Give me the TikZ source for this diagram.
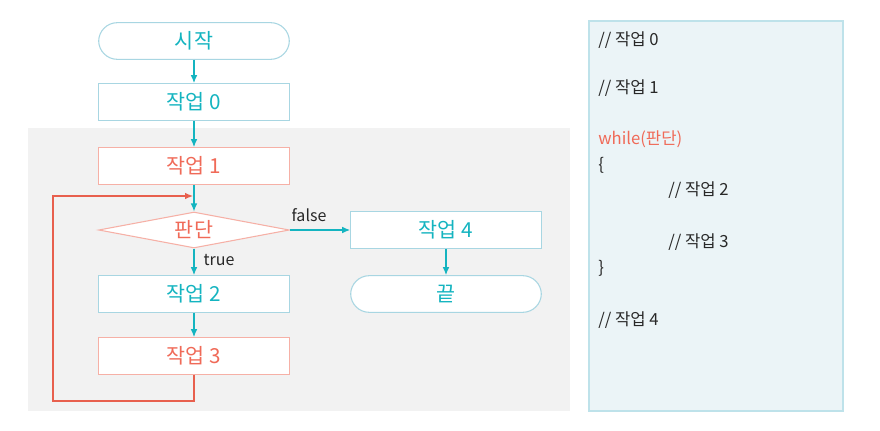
\documentclass[tikz,border=0pt]{standalone}
\usepackage{fontspec}
\setmainfont{Noto Sans CJK KR}
\usetikzlibrary{arrows.meta,shapes.geometric}
\definecolor{flowteal}{RGB}{20,180,192}
\definecolor{flowedge}{RGB}{168,214,226}
\definecolor{flowred}{RGB}{240,106,88}
\definecolor{flowredge}{RGB}{246,176,166}
\definecolor{loopred}{RGB}{232,96,78}
\definecolor{bgpanel}{RGB}{242,242,242}
\definecolor{codepanel}{RGB}{235,244,247}
\definecolor{codeedge}{RGB}{190,226,234}
\definecolor{codetext}{RGB}{40,40,40}
\tikzset{
  box/.style  ={draw=flowedge, fill=white, line width=0.8pt, minimum width=143pt,
                minimum height=27.5pt, inner sep=0pt, text=flowteal,
                font=\fontsize{15.5}{18}\selectfont},
  boxr/.style ={box, draw=flowredge, text=flowred},
  term/.style ={box, rounded corners=14pt},
  cond/.style ={boxr, diamond, aspect=5, minimum width=143pt, minimum height=27pt},
  flow/.style ={draw=flowteal, line width=0.9pt, -{Latex[length=6pt,width=5pt]}},
  back/.style ={draw=loopred, line width=0.9pt, -{Latex[length=6pt,width=5pt]}},
  code/.style ={anchor=west, inner sep=0pt, text=codetext, font=\fontsize{12.5}{15}\selectfont},
  tag/.style  ={inner sep=1pt, text=codetext, font=\fontsize{12}{14}\selectfont},
}

\begin{document}
\begin{tikzpicture}[x=0.75pt,y=-0.75pt]
  \useasboundingbox (0,0) rectangle (880,431);
  \fill[bgpanel] (28,128) rectangle (570,411);
  \filldraw[fill=codepanel,draw=codeedge,line width=0.8pt] (589,21) rectangle (843,411);
  % flow chart
  \node[term] (start) at (194,41) {시작};
  \node[box]  (s0)    at (194,102) {작업 0};
  \node[boxr] (s1)    at (194,166) {작업 1};
  \node[cond] (dec)   at (194,230) {판단};
  \node[box]  (s2)    at (194,294) {작업 2};
  \node[boxr] (s3)    at (194,356) {작업 3};
  \node[box]  (s4)    at (446,230) {작업 4};
  \node[term] (stop)  at (446,294) {끝};
  \coordinate (lpbot) at (53,401);
  \coordinate (lptop) at (53,196);
  \coordinate (join)  at (193,196);
  \draw[flow] (start) -- (s0);
  \draw[flow] (s0) -- (s1);
  \draw[flow] (s1) -- (dec);
  \draw[flow] (dec) -- (s2);
  \draw[flow] (s2) -- (s3);
  \draw[flow] (dec) -- (s4);
  \draw[flow] (s4) -- (stop);
  \draw[back] (s3.south) |- (lpbot) -- (lptop) -- (join);
  \node[tag] (lfalse) at (309,215) {false};
  \node[tag] (ltrue)  at (219,260) {true};
  % code
  \node[code] (c0) at (598,40)  {// 작업 0};
  \node[code] (c1) at (598,88)  {// 작업 1};
  \node[code,text=flowred] (c2) at (598,139) {while(판단)};
  \node[code] (c3) at (598,165) {\{};
  \node[code] (c4) at (668,190) {// 작업 2};
  \node[code] (c5) at (668,242) {// 작업 3};
  \node[code] (c6) at (598,268) {\}};
  \node[code] (c7) at (598,320) {// 작업 4};
\end{tikzpicture}
\end{document}
